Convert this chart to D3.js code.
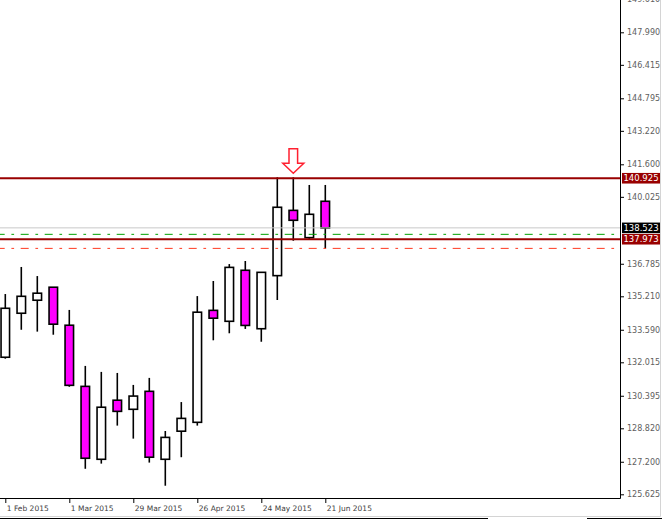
<!DOCTYPE html>
<html>
<head>
<meta charset="utf-8">
<script src="https://cdn.jsdelivr.net/npm/d3@7"></script>
<style>
  html, body { margin: 0; padding: 0; background: #fff; }
  svg { display: block; }
  text { font-family: "DejaVu Sans", sans-serif; }
</style>
</head>
<body>
<svg id="chart" width="662" height="519"></svg>
<script>
// ---- data (weekly candles) ----
const weeks = ["2015-02-01","2015-02-08","2015-02-15","2015-02-22","2015-03-01","2015-03-08","2015-03-15",
               "2015-03-22","2015-03-29","2015-04-05","2015-04-12","2015-04-19","2015-04-26","2015-05-03",
               "2015-05-10","2015-05-17","2015-05-24","2015-05-31","2015-06-07","2015-06-14","2015-06-21"];
const open  = [132.26,134.39,135.02,135.65,133.81,130.85,127.32,130.18,129.74,130.61,127.32,128.68,129.11,134.53,
               134.00,136.47,133.64,136.21,139.37,138.05,139.81];
const high  = [135.32,136.63,136.19,135.66,134.55,131.84,131.55,131.50,130.92,131.26,128.69,130.09,135.22,135.95,
               136.77,136.92,136.38,140.97,140.97,140.60,140.60];
const low   = [132.19,133.59,133.50,133.35,130.83,126.86,127.11,128.95,128.32,127.16,126.04,127.42,128.95,133.08,
               133.42,133.63,133.01,135.03,137.90,137.98,137.53];
const close = [134.63,135.21,135.36,133.86,130.90,127.37,129.84,129.64,130.38,127.42,128.38,129.30,134.44,134.15,
               136.61,133.80,136.37,139.52,138.89,139.18,138.52];

const yTickLabels = ["149.610","147.990","146.415","144.795","143.220","141.600","140.025",
                     "136.785","135.210","133.590","132.015","130.395","128.820","127.200","125.625"];
const xTickDates = ["2015-02-01","2015-03-01","2015-03-29","2015-04-26","2015-05-24","2015-06-21"];

const resistance = 140.925;   // dark red solid
const support    = 137.973;   // dark red solid
const bidPrice   = 138.523;   // grey line, black label
const greenLevel = 138.21;    // green dash-dot
const orangeLevel= 137.53;    // orange-red dash-dot
const arrowWeek  = "2015-06-07";

// ---- layout ----
const svg = d3.select("#chart");
const plotRight = 620, plotBottom = 498;
const parse = d3.utcParse("%Y-%m-%d");
const fmt = d3.utcFormat("%-d %b %Y");

const x = d3.scaleUtc()
  .domain([parse("2015-02-01"), parse("2015-06-21")])
  .range([5.3, 325.3]);
const y = d3.scaleLinear()
  .domain([125.625, 147.990])
  .range([494.3, 32.3]);

svg.append("rect").attr("width", 662).attr("height", 519).attr("fill", "#fff");

const candles = weeks.map((d, i) => ({
  date: parse(d), o: open[i], h: high[i], l: low[i], c: close[i]
}));

const g = svg.append("g");
const bodyW = 8.5;

// wicks
g.selectAll("line.wick").data(candles).join("line")
  .attr("class", "wick")
  .attr("x1", d => x(d.date)).attr("x2", d => x(d.date))
  .attr("y1", d => y(d.h)).attr("y2", d => y(d.l))
  .attr("stroke", "#000").attr("stroke-width", 1.6);

// bodies
g.selectAll("rect.body").data(candles).join("rect")
  .attr("class", "body")
  .attr("x", d => x(d.date) - bodyW / 2)
  .attr("width", bodyW)
  .attr("y", d => y(Math.max(d.o, d.c)))
  .attr("height", d => Math.max(1, Math.abs(y(d.o) - y(d.c))))
  .attr("fill", d => d.c >= d.o ? "#ffffff" : "#ff00ff")
  .attr("stroke", "#000").attr("stroke-width", 1.6);

// horizontal levels
function hline(v, color, w, dash) {
  const l = svg.append("line")
    .attr("x1", 0).attr("x2", plotRight)
    .attr("y1", y(v)).attr("y2", y(v))
    .attr("stroke", color).attr("stroke-width", w);
  if (dash) l.attr("stroke-dasharray", dash).attr("stroke-dashoffset", 3.3);
  return l;
}
hline(bidPrice, "#c8c8c8", 1);
hline(greenLevel, "#00a000", 1, "8,6.7,2.7,6.6");
hline(orangeLevel, "#ff3a20", 1, "8,6.7,2.7,6.6");
hline(resistance, "#990000", 2);
hline(support, "#990000", 2);

// arrow
const ai = weeks.indexOf(arrowWeek);
const ax = x(parse(arrowWeek)), ay = y(high[ai]) - 4;
const arrowPts = [[-4.3,-24.5],[4.3,-24.5],[4.3,-10],[10.5,-10],[0,0],[-10.5,-10],[-4.3,-10]];
svg.append("path")
  .attr("d", d3.line()(arrowPts.map(p => [ax + p[0], ay + p[1]])) + "Z")
  .attr("fill", "#fff").attr("stroke", "#ff2030").attr("stroke-width", 1.5)
  .attr("stroke-linejoin", "miter");

// right axis
const yAxisG = svg.append("g").attr("transform", `translate(${plotRight},0)`);
yAxisG.call(d3.axisRight(y)
    .tickValues(yTickLabels.map(Number))
    .tickFormat((d, i) => yTickLabels[i])
    .tickSize(4).tickPadding(3))
  .call(s => s.select(".domain").remove())
  .call(s => s.selectAll("text").attr("font-family", "DejaVu Sans").attr("font-size", 8).attr("fill", "#606060"))
  .call(s => s.selectAll("line").attr("stroke", "#000"));

// bottom axis
const xAxisG = svg.append("g").attr("transform", `translate(0,${plotBottom})`);
xAxisG.call(d3.axisBottom(x)
    .tickValues(xTickDates.map(parse))
    .tickFormat(fmt).tickSize(5).tickPadding(3))
  .call(s => s.select(".domain").remove())
  .call(s => s.selectAll("text").attr("font-family", "DejaVu Sans").attr("font-size", 7.5)
      .attr("fill", "#404040").attr("text-anchor", "start").attr("dx", 1))
  .call(s => s.selectAll("line").attr("stroke", "#000"));

// axis frame lines
svg.append("line").attr("x1", plotRight + 0.5).attr("x2", plotRight + 0.5).attr("y1", 0).attr("y2", plotBottom + 0.5)
  .attr("stroke", "#000").attr("stroke-width", 1);
svg.append("line").attr("x1", 0).attr("x2", plotRight + 0.5).attr("y1", plotBottom + 0.5).attr("y2", plotBottom + 0.5)
  .attr("stroke", "#000").attr("stroke-width", 1);

// price labels on axis
function priceTag(v, bg) {
  const cy = y(v);
  svg.append("rect").attr("x", 622).attr("y", cy - 5.3).attr("width", 38).attr("height", 10.6).attr("fill", bg);
  svg.append("text").attr("x", 641).attr("y", cy).attr("dy", "0.35em")
    .attr("text-anchor", "middle").attr("font-size", 8.5).attr("fill", "#fff")
    .attr("font-family", "DejaVu Sans")
    .text(v.toFixed(3));
}
priceTag(resistance, "#990000");
priceTag(bidPrice, "#000000");
priceTag(support, "#990000");

// window borders
svg.append("line").attr("x1", 660.5).attr("x2", 660.5).attr("y1", 0).attr("y2", 516.5).attr("stroke", "#d4d4d4");
svg.append("line").attr("x1", 0).attr("x2", 660.5).attr("y1", 516.5).attr("y2", 516.5).attr("stroke", "#d4d4d4");
svg.append("line").attr("x1", 0).attr("x2", 488).attr("y1", 518.5).attr("y2", 518.5).attr("stroke", "#000");
svg.append("line").attr("x1", 587).attr("x2", 662).attr("y1", 518.5).attr("y2", 518.5).attr("stroke", "#000");
</script>
</body>
</html>
